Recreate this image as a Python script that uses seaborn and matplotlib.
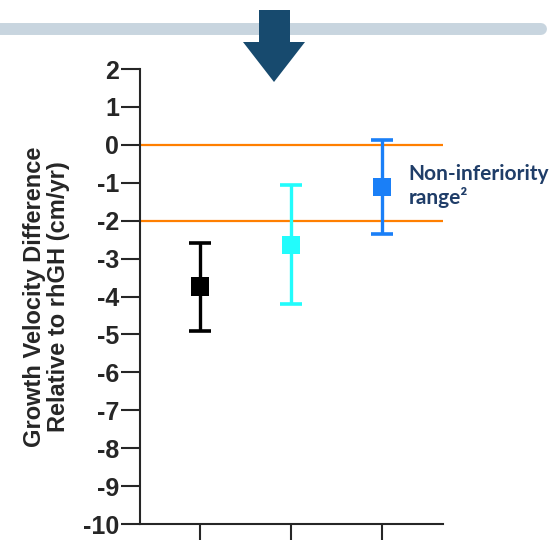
import matplotlib
matplotlib.use("Agg")
import matplotlib.pyplot as plt
import seaborn as sns
import pandas as pd
from matplotlib.patches import Polygon
from matplotlib.lines import Line2D

# ---- data ----
groups = ["A", "B", "C"]
means = [-3.74, -2.64, -1.11]
upper = [-2.58, -1.07, 0.14]
lower = [-4.90, -4.20, -2.36]
colors = ["#000000", "#22FCFC", "#1A7FF7"]
margins = [0, -2]
yticks = list(range(-10, 3))
ylabel = "Growth Velocity Difference\nRelative to rhGH (cm/yr)"
note = "Non-inferiority\nrange\u00b2"

sns.set_style("ticks")
plt.rcParams["font.family"] = "Liberation Sans"

W, H = 551, 540
fig = plt.figure(figsize=(W / 100, H / 100), dpi=100)
ax = fig.add_axes([140 / W, 16 / H, 303 / W, 455 / H])

df = pd.DataFrame({"x": range(len(groups)), "mean": means, "g": groups})

for m in margins:
    ax.axhline(m, color="#FF7F00", lw=1.6, zorder=1)

for i in range(len(groups)):
    ax.errorbar(i, means[i],
                yerr=[[means[i] - lower[i]], [upper[i] - means[i]]],
                fmt="none", ecolor=colors[i], elinewidth=2.4,
                capsize=8, capthick=2.6, zorder=2)

sns.scatterplot(data=df, x="x", y="mean", hue="g", palette=colors,
                marker="s", s=175, linewidth=0, legend=False, ax=ax, zorder=3)

ax.set_xlim(-0.66, 2.67)
ax.set_ylim(-10, 2)
ax.set_yticks(yticks)
ax.set_yticklabels([str(t) for t in yticks])
for lab in ax.get_yticklabels():
    lab.set_fontsize(18)
    lab.set_fontweight("bold")
    lab.set_family("Liberation Sans")
ax.set_xticks(range(len(groups)))
ax.set_xticklabels([])
ax.set_xlabel("")
ax.set_ylabel(ylabel, fontsize=17, fontweight="bold", family="Liberation Sans",
              labelpad=9, linespacing=1.1)
ax.tick_params(axis="y", length=14, width=1.5, pad=1)
ax.tick_params(axis="x", length=14, width=1.5)
for s in ["left", "bottom"]:
    ax.spines[s].set_linewidth(1.5)
sns.despine(ax=ax)

ax.text(2.29, -1.09, note, fontsize=15, fontweight="bold", color="#1F3D68",
        family="Lato", va="center", ha="left",
        linespacing=1.2, clip_on=False)

# ---- decorative header: bar and arrow ----
def fx(px):
    return px / W

def fy(py):
    return 1 - py / H

fig.add_artist(Line2D([fx(0), fx(541)], [fy(29), fy(29)], transform=fig.transFigure,
                      color="#C8D5DF", lw=8.6, solid_capstyle="round", zorder=1))
arrow = [(259, 10), (290, 10), (290, 42), (305, 42), (274, 82),
         (243, 42), (259, 42)]
fig.add_artist(Polygon([(fx(x), fy(y)) for x, y in arrow], closed=True,
                       transform=fig.transFigure, facecolor="#174A6E",
                       edgecolor="none", zorder=2))

fig.savefig("out.png", dpi=100)
